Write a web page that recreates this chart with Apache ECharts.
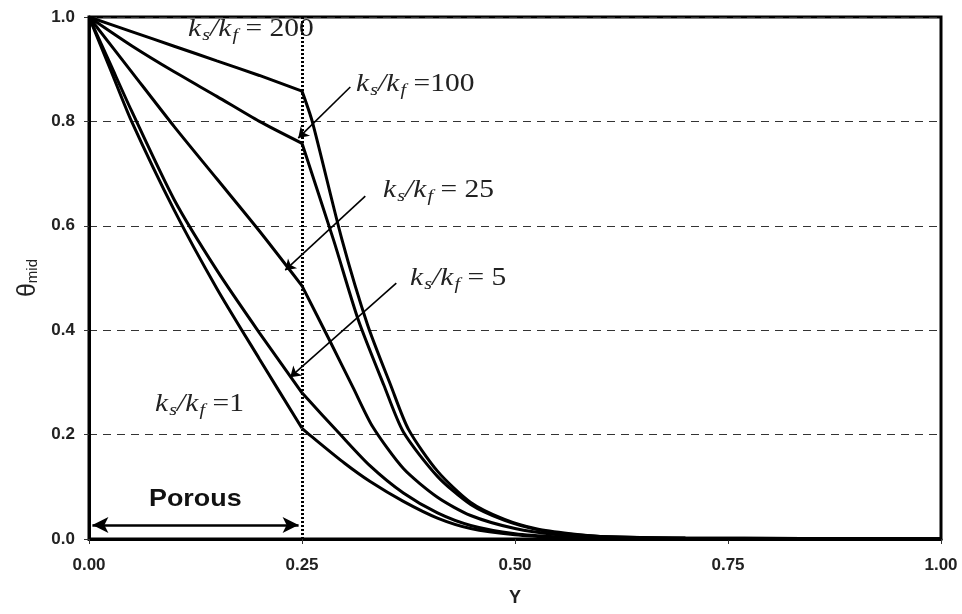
<!DOCTYPE html>
<html>
<head>
    <meta charset="utf-8">
    <title>theta mid</title>
    <script src="https://cdn.jsdelivr.net/npm/echarts@6/dist/echarts.min.js"></script>
</head>
<body style="margin:0;background:#fff">
    <div id="chart" style="width: 962px;height:614px;"></div>
    <script type="text/javascript">
        // [Y, theta_mid], one list per ks/kf
        var k1 = [[0,1],[0.025,0.9],[0.05,0.8],[0.1,0.63],[0.15,0.48],[0.2,0.345],[0.25,0.212],
                  [0.26,0.198],[0.3,0.145],[0.33,0.11],[0.369,0.072],[0.409,0.04],[0.448,0.02],
                  [0.5,0.008],[0.55,0.003],[0.6,0.001],[0.7,0],[1,0]];
        var k5 = [[0,1],[0.025,0.91],[0.05,0.82],[0.1,0.65],[0.15,0.515],[0.2,0.395],[0.25,0.28],
                  [0.295,0.2],[0.33,0.14],[0.369,0.088],[0.409,0.05],[0.448,0.026],[0.5,0.01],
                  [0.55,0.004],[0.6,0.002],[0.7,0],[1,0]];
        var k25 = [[0,1],[0.05,0.895],[0.1,0.79],[0.15,0.69],[0.2,0.59],[0.25,0.485],
                   [0.281,0.385],[0.31,0.29],[0.333,0.215],[0.369,0.135],[0.409,0.08],[0.448,0.045],
                   [0.5,0.02],[0.55,0.008],[0.6,0.003],[0.7,0.001],[1,0]];
        var k100 = [[0,1],[0.05,0.945],[0.1,0.895],[0.15,0.848],[0.2,0.8],[0.25,0.758],
                    [0.287,0.573],[0.316,0.42],[0.346,0.295],[0.369,0.205],[0.409,0.12],[0.448,0.066],
                    [0.487,0.036],[0.526,0.018],[0.565,0.009],[0.6,0.005],[0.7,0.002],[1,0]];
        var k200 = [[0,1],[0.05,0.972],[0.1,0.944],[0.15,0.916],[0.2,0.888],[0.25,0.858],
                    [0.262,0.8],[0.297,0.573],[0.327,0.41],[0.354,0.295],[0.375,0.21],[0.409,0.13],
                    [0.448,0.07],[0.487,0.038],[0.526,0.019],[0.565,0.01],[0.6,0.005],[0.7,0.002],[1,0]];
        var xTicks = ['0.00', '0.25', '0.50', '0.75', '1.00'];
        var yTicks = ['0.0', '0.2', '0.4', '0.6', '0.8', '1.0'];
        var porousEdge = 0.25;

        var chart = echarts.init(document.getElementById('chart'));

        var labelRich = {
            k: { fontFamily: 'Liberation Serif', fontStyle: 'italic', fontSize: 25, fill: '#222' },
            s: { fontFamily: 'Liberation Serif', fontStyle: 'italic', fontSize: 17, fill: '#222', verticalAlign: 'bottom', padding: [12, 0, 0, 1] },
            n: { fontFamily: 'Liberation Serif', fontSize: 25, fill: '#222' }
        };
        function ratioLabel(x, y, tail) {
            return {
                type: 'text', left: x, top: y, scaleX: 1.18,
                style: { text: '{k|k}{s|s}{k|/k}{s|f}{n|' + tail + '}', rich: labelRich }
            };
        }
        // porous part and fluid part are drawn as two smooth pieces so the kink at 0.25 stays sharp
        function pieces(data) {
            var style = { color: '#000', width: 3 };
            var left = data.filter(function (p) { return p[0] <= porousEdge; });
            var right = data.filter(function (p) { return p[0] >= porousEdge; });
            return [left, right].map(function (d) {
                return {
                    type: 'line', data: d, showSymbol: false, smooth: 0.25,
                    lineStyle: style, silent: true, z: 3
                };
            });
        }
        function arrow(a, b) {
            return [{ coord: a }, { coord: b }];
        }

        var series = [].concat(pieces(k1), pieces(k5), pieces(k25), pieces(k100), pieces(k200));
        series[0].markLine = {
            silent: true, symbol: ['none', 'arrow'], symbolSize: 10, label: { show: false },
            lineStyle: { color: '#000', width: 1.6, type: 'solid' },
            data: [
                arrow([0.3067, 0.866], [0.2456, 0.768]),
                arrow([0.3243, 0.657], [0.2303, 0.515]),
                arrow([0.3607, 0.49], [0.2362, 0.31])
            ]
        };
        series[1].markLine = {
            silent: true, symbol: ['arrow', 'arrow'], symbolSize: [12, 16], label: { show: false },
            lineStyle: { color: '#000', width: 2.5, type: 'solid' },
            data: [arrow([0.004, 0.027], [0.246, 0.027])]
        };
        series[2].markLine = {
            silent: true, symbol: 'none', label: { show: false },
            lineStyle: { color: '#000', width: 3, type: [2, 2] },
            data: [arrow([porousEdge, 0], [porousEdge, 1])]
        };

        var option = {
            animation: false,
            grid: { left: 89, right: 21, top: 17, bottom: 75, show: true, borderColor: '#000', borderWidth: 3 },
            xAxis: {
                type: 'value', min: 0, max: 1, interval: 0.25,
                name: 'Y', nameLocation: 'middle', nameGap: 50,
                nameTextStyle: { fontFamily: 'Liberation Sans', fontWeight: 'bold', fontSize: 18, color: '#222' },
                axisLine: { lineStyle: { color: '#000', width: 3 } },
                axisTick: { show: true, length: 5, lineStyle: { color: '#333', width: 1 } },
                axisLabel: {
                    margin: 18, fontFamily: 'Liberation Sans', fontWeight: 'bold', fontSize: 17, color: '#222',
                    formatter: function (v) { return xTicks[Math.round(v / 0.25)]; }
                },
                splitLine: { show: false }
            },
            yAxis: {
                type: 'value', min: 0, max: 1, interval: 0.2,
                name: '{t|θ}{m|mid}', nameLocation: 'middle', nameGap: 44, nameRotate: 90,
                nameTextStyle: {
                    rich: {
                        t: { fontFamily: 'Liberation Sans', fontSize: 25, color: '#222' },
                        m: { fontFamily: 'Liberation Sans', fontSize: 15, color: '#222', verticalAlign: 'bottom', padding: [9, 0, 0, 0] }
                    }
                },
                axisLine: { lineStyle: { color: '#000', width: 3 } },
                axisTick: { show: true, length: 5, lineStyle: { color: '#333', width: 1 } },
                axisLabel: {
                    margin: 14, fontFamily: 'Liberation Sans', fontWeight: 'bold', fontSize: 17, color: '#222',
                    formatter: function (v) { return yTicks[Math.round(v / 0.2)]; }
                },
                splitLine: { show: true, lineStyle: { color: '#333', width: 1, type: [8, 6] } }
            },
            graphic: [
                ratioLabel(188, 17, ' = 200'),
                ratioLabel(356, 72, ' =100'),
                ratioLabel(383, 178, ' = 25'),
                ratioLabel(410, 266, ' = 5'),
                ratioLabel(155, 392, ' =1'),
                {
                    type: 'text', left: 149, top: 487, scaleX: 1.12,
                    style: { text: 'Porous', fontFamily: 'Liberation Sans', fontWeight: 'bold', fontSize: 24, fill: '#111' }
                }
            ],
            series: series
        };
        chart.setOption(option);
    </script>
</body>
</html>
